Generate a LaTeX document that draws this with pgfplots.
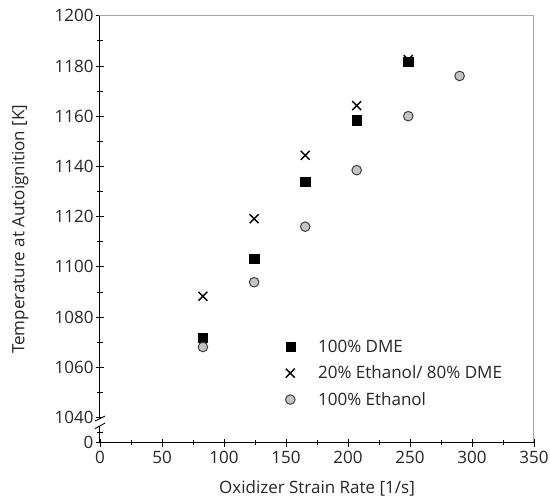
\documentclass[border=0pt]{standalone}
\usepackage{fontspec}
\setmainfont{Open Sans}
\usepackage{pgfplots}
\pgfplotsset{compat=1.18}

\definecolor{markgray}{HTML}{C4C4C4}
\definecolor{framegray}{HTML}{A6A6A6}
\newcommand{\lab}{\fontsize{17}{20}\selectfont}

\begin{document}
\begin{tikzpicture}
\useasboundingbox (-100pt,-59.3pt) rectangle (450pt,442.7pt);
\begin{axis}[
  scale only axis,
  width=434pt, height=427pt,
  xmin=0, xmax=350,
  ymin=1030, ymax=1200,
  xtick={0,50,...,350},
  xticklabels={0,50,100,150,200,250,300,350},
  ytick={1030,1040,1060,1080,1100,1120,1140,1160,1180,1200},
  yticklabels={0,1040,1060,1080,1100,1120,1140,1160,1180,1200},
  minor x tick num=1,
  minor ytick={1034,1050,1070,1090,1110,1130,1150,1170,1190},
  tick pos=left,
  tick align=center,
  major tick length=8pt,
  minor tick length=5.5pt,
  every tick/.style={black, line width=0.8pt},
  axis line style={framegray, line width=1pt},
  every tick label/.append style={font=\lab, text=black!85},
  every x tick label/.append style={yshift=-1pt},
  every y tick label/.append style={xshift=1pt},
  every axis x label/.style={at={(axis description cs:0.5,-0.106)}, anchor=center,
    font=\lab, text=black!85},
  every axis y label/.style={at={(axis description cs:-0.184,0.5)}, rotate=90, anchor=center,
    font=\lab, text=black!85},
  xlabel={Oxidizer Strain Rate [1/s]},
  ylabel={Temperature at Autoignition [K]},
  legend image code/.code={
    \path (0cm,0cm) (1.2cm,0cm);
    \draw[mark repeat=2,mark phase=2,#1] plot coordinates {(0cm,0cm) (0.3cm,0cm) (0.6cm,0cm)};},
  legend style={at={(rel axis cs:0.411,0.250)}, anchor=north west, draw=none, fill=none,
    font=\lab, text=black!85, row sep=8pt},
  legend cell align=left,
  clip=false,
]
\addplot[only marks, mark=square*, mark size=4.6pt, mark options={fill=black, draw=black}]
  coordinates {(83,1071.8) (124.3,1103.1) (165.5,1133.9) (207,1158.4) (248.6,1181.6)};
\addlegendentry{100\% DME}
\addplot[only marks, mark=x, mark size=6.3pt, mark options={draw=black, line width=1.4pt}]
  coordinates {(83,1088.3) (124.3,1119.2) (165.5,1144.4) (207,1164.2) (248.6,1182.5)};
\addlegendentry{20\% Ethanol/ 80\% DME}
\addplot[only marks, mark=*, mark size=4.8pt, mark options={fill=markgray, draw=black!75, line width=1pt}]
  coordinates {(83,1068.1) (124.3,1093.9) (165.5,1116) (207,1138.5) (248.6,1160) (290,1176)};
\addlegendentry{100\% Ethanol}
% black left and bottom axis lines over the grey frame
\draw[black, line width=1pt] (rel axis cs:0,1) -- (rel axis cs:0,0) -- (rel axis cs:1,0);
% axis break marks
\fill[white] ([xshift=-5pt]axis cs:0,1038.6) -- ([xshift=5pt]axis cs:0,1040.6) -- ([xshift=5pt]axis cs:0,1037.8) -- ([xshift=-5pt]axis cs:0,1035.6) -- cycle;
\draw[black, line width=0.9pt] ([xshift=-5pt]axis cs:0,1038.6) -- ([xshift=5pt]axis cs:0,1040.6);
\draw[black, line width=0.9pt] ([xshift=-5pt]axis cs:0,1035.6) -- ([xshift=5pt]axis cs:0,1037.8);
\end{axis}
\end{tikzpicture}
\end{document}
